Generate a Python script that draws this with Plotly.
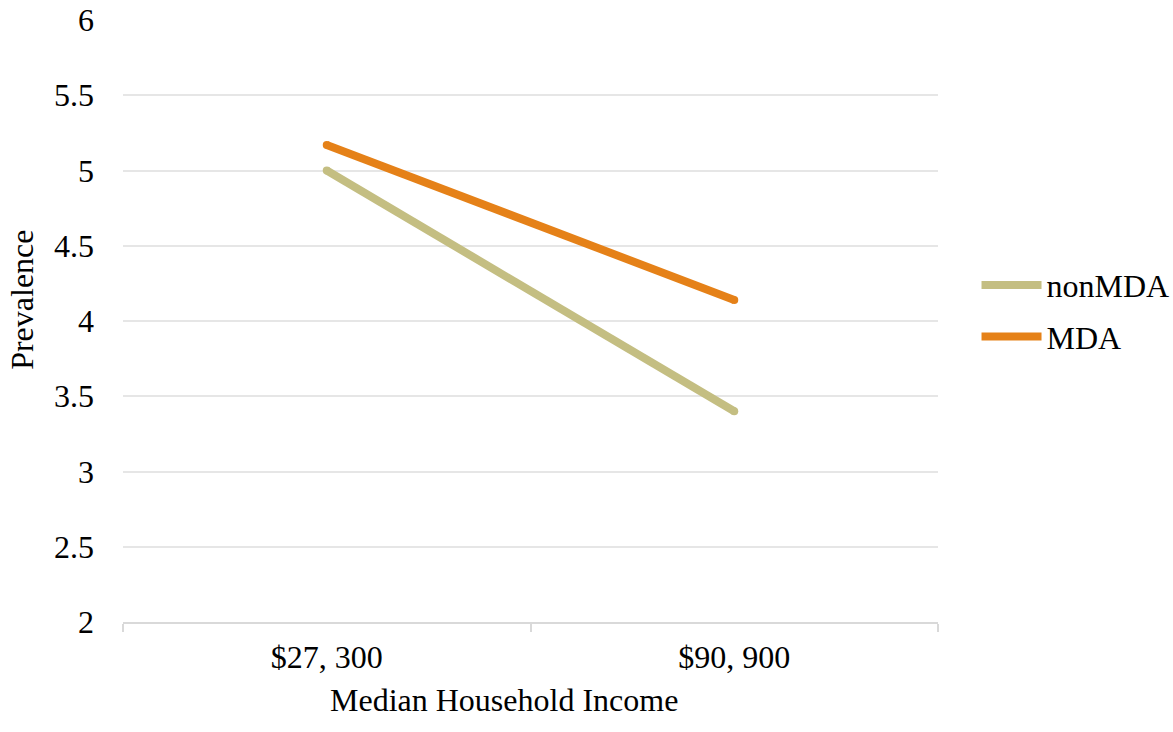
import plotly.graph_objects as go

categories = ["$27, 300", "$90, 900"]
non_mda = [5.00, 3.40]
mda = [5.17, 4.14]

series_names = ["nonMDA", "MDA"]
series_colors = ["#C4BE82", "#E58118"]

FONT = "Liberation Serif"
FS = 32

fig = go.Figure()
for name, vals, col in zip(series_names, [non_mda, mda], series_colors):
    fig.add_trace(go.Scatter(
        x=categories, y=vals, name=name, mode="lines", legendgroup=name,
        line=dict(color=col, width=8),
    ))
    fig.add_trace(go.Scatter(
        x=categories, y=vals, mode="markers", showlegend=False, hoverinfo="skip",
        legendgroup=name,
        marker=dict(color=col, size=8, line=dict(width=0)),
    ))

fig.update_layout(
    width=1173, height=732,
    margin=dict(l=123, r=235, t=20, b=110),
    paper_bgcolor="white", plot_bgcolor="white",
    font=dict(family=FONT, size=FS, color="black"),
    showlegend=True,
    legend=dict(
        xref="container", yref="container",
        x=0.8325, y=0.575, xanchor="left", yanchor="middle",
        font=dict(family=FONT, size=FS, color="black"),
        itemwidth=60, tracegroupgap=7, bgcolor="rgba(0,0,0,0)",
    ),
    xaxis=dict(
        type="category", range=[-0.5, 1.5], automargin=False,
        showgrid=False, showline=True, linecolor="#D9D9D9", linewidth=1.5,
        ticks="outside", tickson="boundaries", ticklen=8, tickcolor="#D9D9D9", tickwidth=1.5,
        ticklabelstandoff=6,
        tickfont=dict(family=FONT, size=FS, color="black"),
        zeroline=False,
    ),
    yaxis=dict(
        range=[2, 6], dtick=0.5, tick0=2, automargin=False,
        showgrid=True, gridcolor="#E6E6E6", gridwidth=1.5,
        showline=False, zeroline=False, ticks="",
        ticklabelstandoff=28,
        tickfont=dict(family=FONT, size=FS, color="black"),
    ),
    annotations=[
        dict(text="Median Household Income", xref="paper", yref="paper",
             x=0.4675, y=-0.13, xanchor="center", yanchor="middle", showarrow=False,
             font=dict(family=FONT, size=FS, color="black")),
        dict(text="Prevalence", xref="paper", yref="paper", textangle=-90,
             x=-0.124, y=0.535, xanchor="center", yanchor="middle", showarrow=False,
             font=dict(family=FONT, size=FS, color="black")),
    ],
)

fig.write_html(
    "out.html",
    config={"displayModeBar": False},
    post_script="document.body.style.margin='0';document.body.style.overflow='hidden';",
)
